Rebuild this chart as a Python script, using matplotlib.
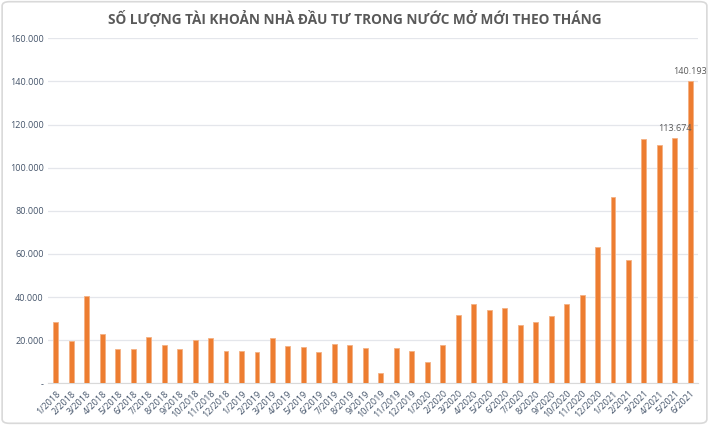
import matplotlib
matplotlib.use('Agg')
import matplotlib.pyplot as plt
from matplotlib.patches import FancyBboxPatch

# so tai khoan mo moi theo thang (don vi: tai khoan)
thang = ['1/2018', '2/2018', '3/2018', '4/2018', '5/2018', '6/2018', '7/2018', '8/2018',
         '9/2018', '10/2018', '11/2018', '12/2018',
         '1/2019', '2/2019', '3/2019', '4/2019', '5/2019', '6/2019', '7/2019', '8/2019',
         '9/2019', '10/2019', '11/2019', '12/2019',
         '1/2020', '2/2020', '3/2020', '4/2020', '5/2020', '6/2020', '7/2020', '8/2020',
         '9/2020', '10/2020', '11/2020', '12/2020',
         '1/2021', '2/2021', '3/2021', '4/2021', '5/2021', '6/2021']
so_tk = [28400, 19500, 40700, 22900, 15800, 15800, 21500, 18000, 15800, 20100, 21100, 15000,
         15000, 14400, 21100, 17500, 17000, 14400, 18400, 17800, 16300, 4900, 16300, 15000,
         9800, 18000, 31800, 36600, 33800, 34900, 27000, 28400, 31400, 36600, 41000, 63400,
         86500, 57300, 113500, 110400, 113674, 140193]
nhan = {'5/2021': '113.674', '6/2021': '140.193'}

yticks = [0, 20000, 40000, 60000, 80000, 100000, 120000, 140000, 160000]
ylabels = ['-', '20.000', '40.000', '60.000', '80.000', '100.000', '120.000', '140.000', '160.000']

plt.rcParams['font.family'] = ['Open Sans', 'DejaVu Sans']
mau_chu = '#44546A'

fig = plt.figure(figsize=(7.09, 4.25), dpi=100)
fig.patch.set_facecolor('white')
# khung vien nhat quanh bieu do
fig.patches.append(FancyBboxPatch((0.003, 0.004), 0.994, 0.992, boxstyle='round,pad=0,rounding_size=0.01',
                                  transform=fig.transFigure, fill=False, edgecolor='#D9D9D9', linewidth=1.2))

ax = fig.add_axes([0.0677, 0.098, 0.917, 0.812])
x = range(len(thang))
ax.bar(x, so_tk, width=0.32, color='#ED7D31', edgecolor='#F4B183', linewidth=0.6, zorder=3)

for i, t in enumerate(thang):
    if t in nhan:
        ax.text(i, so_tk[i] + 2500, nhan[t], ha='center', va='bottom', fontsize=6.5, color='#595959')

ax.set_xlim(-0.5, len(thang) - 0.5)
ax.set_ylim(0, 160000)
ax.set_yticks(yticks)
ax.set_yticklabels(ylabels, fontsize=6.5, color=mau_chu)
ax.set_xticks(list(x))
ax.set_xticklabels(thang, rotation=45, ha='right', rotation_mode='anchor', fontsize=6.5, color=mau_chu)
ax.tick_params(length=0, pad=3)
ax.tick_params(axis='x', pad=4)
ax.grid(axis='y', color='#E4E6EB', linewidth=0.9, zorder=0)
for s in ax.spines.values():
    s.set_visible(False)
ax.spines['bottom'].set_visible(True)
ax.spines['bottom'].set_color('#D9D9D9')

fig.text(0.5, 0.958, 'SỐ LƯỢNG TÀI KHOẢN NHÀ ĐẦU TƯ TRONG NƯỚC MỞ MỚI THEO THÁNG',
         ha='center', va='center', fontsize=9.8, fontweight='bold', color='#595959')

plt.savefig('out.png', dpi=100)
